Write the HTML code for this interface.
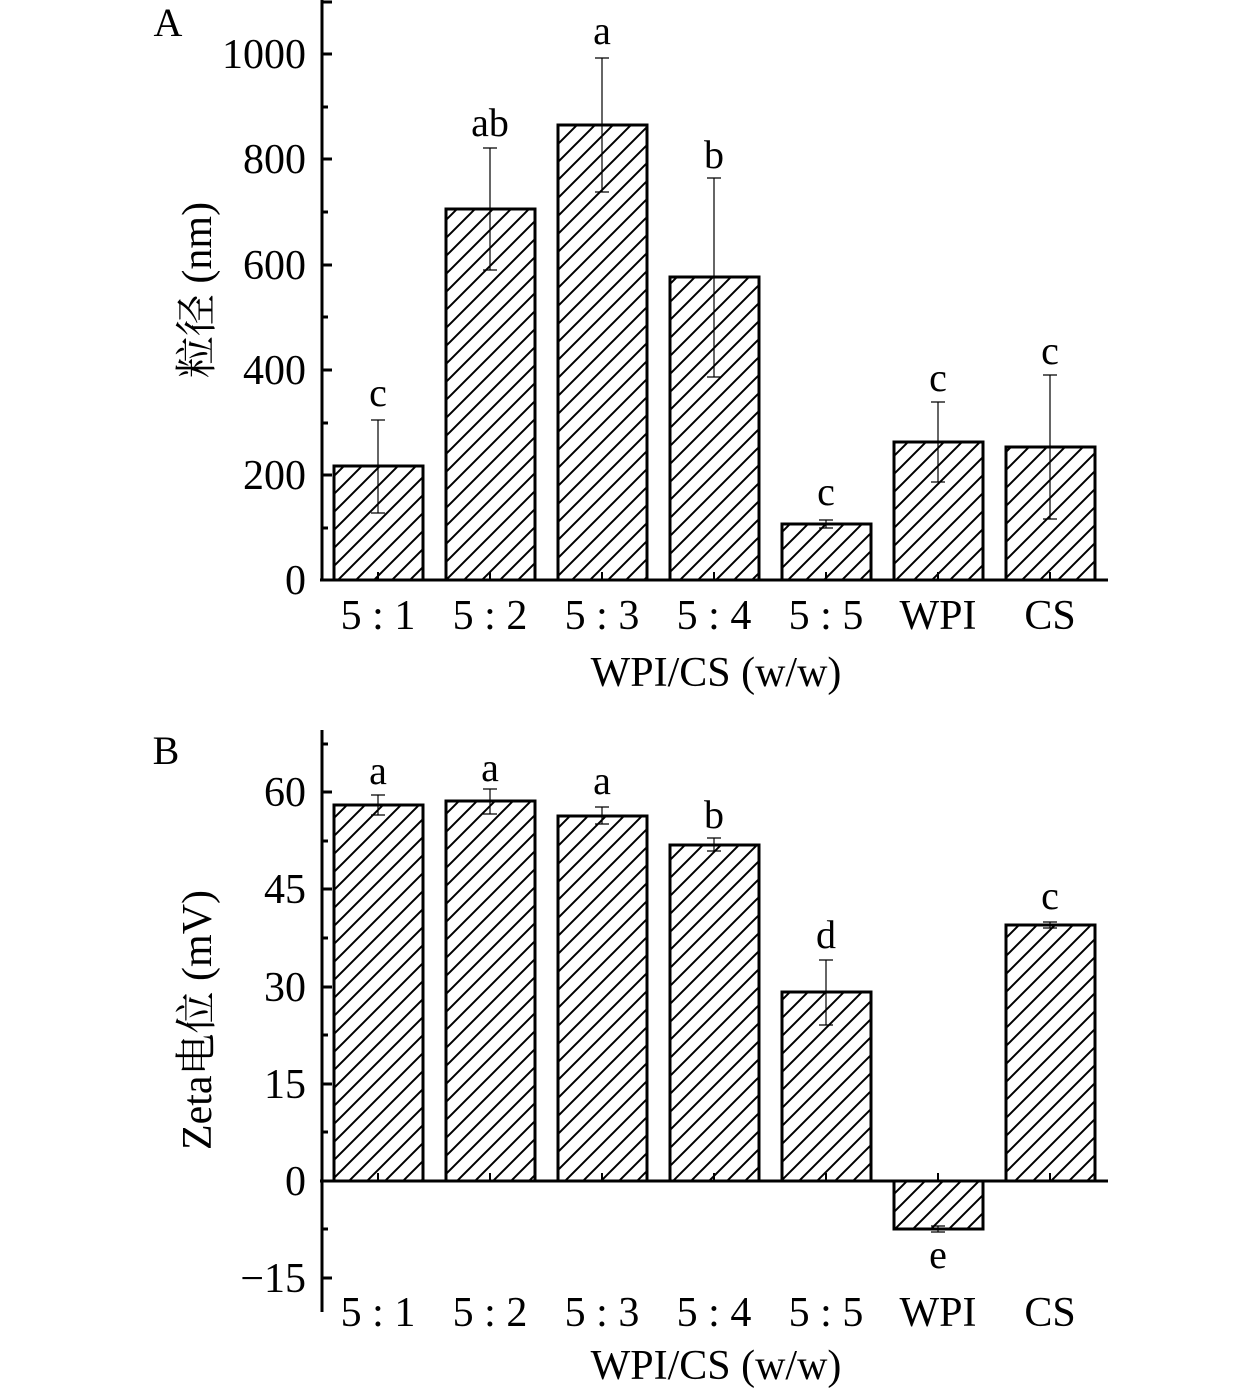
<!DOCTYPE html>
<html><head><meta charset="utf-8"><style>
html,body{margin:0;padding:0;background:#fff;}
svg text{font-family:"Liberation Serif","Noto Serif CJK SC",serif;fill:#000;}
</style></head><body>
<svg width="1260" height="1395" viewBox="0 0 1260 1395" xmlns="http://www.w3.org/2000/svg">
<defs>
<pattern id="h" patternUnits="userSpaceOnUse" width="18" height="18">
<path d="M-4.5,4.5 L4.5,-4.5 M0,18 L18,0 M13.5,22.5 L22.5,13.5" stroke="#000" stroke-width="2"/>
</pattern>
</defs>
<g stroke="#000" fill="url(#h)" stroke-width="3">
<rect x="334" y="466" width="89" height="114"/>
<rect x="446" y="209" width="89" height="371"/>
<rect x="558" y="125" width="89" height="455"/>
<rect x="670" y="277" width="89" height="303"/>
<rect x="782" y="524" width="89" height="56"/>
<rect x="894" y="442" width="89" height="138"/>
<rect x="1006" y="447" width="89" height="133"/>
<rect x="334" y="805" width="89" height="376"/>
<rect x="446" y="801" width="89" height="380"/>
<rect x="558" y="816" width="89" height="365"/>
<rect x="670" y="845" width="89" height="336"/>
<rect x="782" y="992" width="89" height="189"/>
<rect x="894" y="1181" width="89" height="48"/>
<rect x="1006" y="925" width="89" height="256"/>
</g>
<g stroke="#000" stroke-width="1.2" fill="none">
<path d="M378,420V513M371,420H385M371,513H385"/>
<path d="M490,148V270M483,148H497M483,270H497"/>
<path d="M602,58V192M595,58H609M595,192H609"/>
<path d="M714,178V377M707,178H721M707,377H721"/>
<path d="M826,520V528M819,520H833M819,528H833"/>
<path d="M938,402V482M931,402H945M931,482H945"/>
<path d="M1050,375V519M1043,375H1057M1043,519H1057"/>
<path d="M378,795V815M371,795H385M371,815H385"/>
<path d="M490,789V814M483,789H497M483,814H497"/>
<path d="M602,807V824M595,807H609M595,824H609"/>
<path d="M714,838V851M707,838H721M707,851H721"/>
<path d="M826,960V1025M819,960H833M819,1025H833"/>
<path d="M938,1226V1232M931,1226H945M931,1232H945"/>
<path d="M1050,922V928M1043,922H1057M1043,928H1057"/>
</g>
<g stroke="#000" stroke-width="3" fill="none">
<path d="M322,0V581M320,580H1108"/>
<path d="M322,2H332M322,54H332M322,159H332M322,265H332M322,370H332M322,475H332"/>
<path d="M322,107H328M322,212H328M322,317H328M322,423H328M322,528H328"/>
<path d="M378,580V572M490,580V572M602,580V572M714,580V572M826,580V572M938,580V572M1050,580V572" stroke-width="2"/>
<path d="M322,730V1312M320,1181H1108"/>
<path d="M322,792H332M322,889H332M322,987H332M322,1084H332M322,1278H332"/>
<path d="M322,744H328M322,841H328M322,938H328M322,1035H328M322,1132H328M322,1229H328"/>
<path d="M378,1181V1173M490,1181V1173M602,1181V1173M714,1181V1173M826,1181V1173M938,1181V1173M1050,1181V1173" stroke-width="2"/>
</g>
<g font-size="42" text-anchor="end">
<text x="306" y="68">1000</text>
<text x="306" y="173">800</text>
<text x="306" y="279">600</text>
<text x="306" y="384">400</text>
<text x="306" y="489">200</text>
<text x="306" y="594">0</text>
<text x="306" y="806">60</text>
<text x="306" y="903">45</text>
<text x="306" y="1001">30</text>
<text x="306" y="1098">15</text>
<text x="306" y="1195">0</text>
<text x="306" y="1292">−15</text>
</g>
<g font-size="42" text-anchor="middle">
<text x="378" y="629">5 : 1</text><text x="490" y="629">5 : 2</text><text x="602" y="629">5 : 3</text><text x="714" y="629">5 : 4</text><text x="826" y="629">5 : 5</text><text x="938" y="629">WPI</text><text x="1050" y="629">CS</text>
<text x="716" y="686">WPI/CS (w/w)</text>
<text x="378" y="1326">5 : 1</text><text x="490" y="1326">5 : 2</text><text x="602" y="1326">5 : 3</text><text x="714" y="1326">5 : 4</text><text x="826" y="1326">5 : 5</text><text x="938" y="1326">WPI</text><text x="1050" y="1326">CS</text>
<text x="716" y="1379">WPI/CS (w/w)</text>
</g>
<g font-size="40" text-anchor="middle">
<text x="378" y="406">c</text><text x="490" y="136">ab</text><text x="602" y="44">a</text><text x="714" y="168">b</text><text x="826" y="505">c</text><text x="938" y="391">c</text><text x="1050" y="364">c</text>
<text x="378" y="784">a</text><text x="490" y="781">a</text><text x="602" y="794">a</text><text x="714" y="828">b</text><text x="826" y="948">d</text><text x="938" y="1268">e</text><text x="1050" y="909">c</text>
<text x="168" y="36">A</text>
<text x="166" y="764">B</text>
</g>
<text font-size="42" text-anchor="middle" transform="translate(211,290) rotate(-90)">粒径 (nm)</text>
<text font-size="42" text-anchor="middle" transform="translate(211,1020) rotate(-90)">Zeta电位 (mV)</text>
</svg>
</body></html>
